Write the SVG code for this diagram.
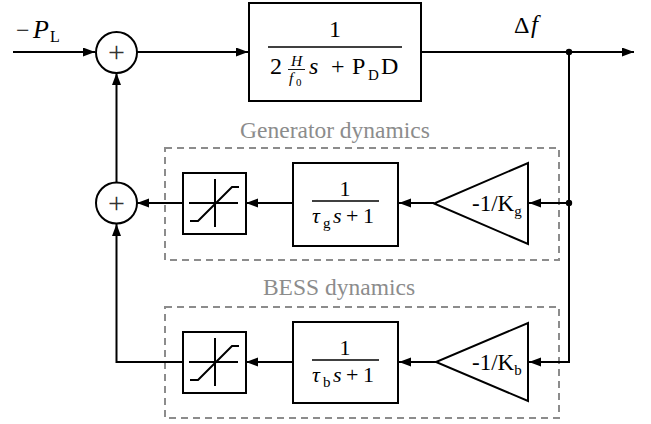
<svg xmlns="http://www.w3.org/2000/svg" width="651" height="424" viewBox="0 0 651 424">
<style>
text{font-family:"Liberation Serif","Times New Roman",serif;fill:#000}
.i{font-style:italic}
.g{fill:#8c8c8c;font-size:23.5px;text-anchor:middle}
.plus{font-size:30px;fill:#333;text-anchor:middle}
.ln{fill:none;stroke:#000;stroke-width:2}
.box{fill:#fff;stroke:#000;stroke-width:2}
.thin{fill:none;stroke:#000;stroke-width:1.3}
.dash{fill:none;stroke:#8c8c8c;stroke-width:2;stroke-dasharray:7 5}
</style>
<defs>
<marker id="ar" markerUnits="userSpaceOnUse" markerWidth="12" markerHeight="10" refX="12" refY="4.5" orient="auto">
<path d="M0,0 L12,4.5 L0,9 z" fill="#000"/>
</marker>
</defs>

<g id="labels">
<text x="16" y="38" font-size="24">−</text>
<text class="i" x="33" y="38" font-size="26">P</text>
<text x="50" y="42" font-size="16">L</text>
<text x="514" y="33" font-size="24">Δ</text>
<text class="i" x="531" y="33" font-size="25">f</text>
<text class="g" x="335" y="138">Generator dynamics</text>
<text class="g" x="339" y="295">BESS dynamics</text>
</g>

<g id="gen-box"><rect class="dash" x="165" y="148" width="394" height="112"/></g>
<g id="bess-box"><rect class="dash" x="165" y="307" width="394" height="111"/></g>

<g id="connectors">
<line class="ln" x1="13" y1="52" x2="95" y2="52" marker-end="url(#ar)"/>
<line class="ln" x1="137" y1="52" x2="248" y2="52" marker-end="url(#ar)"/>
<line class="ln" x1="421" y1="52" x2="634" y2="52" marker-end="url(#ar)"/>
<polyline class="ln" points="569,52 569,362 529,362" marker-end="url(#ar)"/>
<line class="ln" x1="569" y1="203" x2="529" y2="203" marker-end="url(#ar)"/>
<line class="ln" x1="434" y1="203" x2="399" y2="203" marker-end="url(#ar)"/>
<line class="ln" x1="293" y1="203" x2="246" y2="203" marker-end="url(#ar)"/>
<line class="ln" x1="183" y1="203" x2="137" y2="203" marker-end="url(#ar)"/>
<line class="ln" x1="116.5" y1="182.5" x2="116.5" y2="73" marker-end="url(#ar)"/>
<line class="ln" x1="436" y1="362" x2="399" y2="362" marker-end="url(#ar)"/>
<line class="ln" x1="293" y1="362" x2="246" y2="362" marker-end="url(#ar)"/>
<polyline class="ln" points="183,362 116.5,362 116.5,224" marker-end="url(#ar)"/>
<circle cx="569" cy="52" r="3.2" fill="#000"/>
<circle cx="569" cy="203" r="3.2" fill="#000"/>
</g>

<g id="sum1">
<circle class="box" cx="116.5" cy="52.5" r="20.5"/>
<text class="plus" x="116.5" y="62">+</text>
</g>
<g id="sum2">
<circle class="box" cx="116.5" cy="203" r="20.5"/>
<text class="plus" x="116.5" y="212.5">+</text>
</g>

<g id="plant">
<rect class="box" x="249" y="3" width="172" height="98"/>
<text x="335" y="37" font-size="24" text-anchor="middle">1</text>
<line class="thin" x1="268" y1="47" x2="402" y2="47"/>
<text x="270" y="74" font-size="24">2</text>
<text class="i" x="296.5" y="66" font-size="15.5" text-anchor="middle">H</text>
<line x1="288" y1="69.5" x2="305" y2="69.5" stroke="#000" stroke-width="0.9"/>
<text class="i" x="289" y="83" font-size="15.5">f</text>
<text x="296" y="86" font-size="11">0</text>
<text class="i" x="309" y="74" font-size="24">s</text>
<text x="331" y="74" font-size="24">+</text>
<text x="352" y="74" font-size="24">P</text>
<text x="368" y="80" font-size="15">D</text>
<text x="381" y="74" font-size="24">D</text>
</g>

<g id="gain-g">
<polygon class="box" points="528,163 528,244 434,203.5"/>
<text x="472" y="211" font-size="23">-1/K<tspan font-size="15" dy="5">g</tspan></text>
</g>
<g id="lag-g">
<rect class="box" x="293" y="163" width="105" height="83"/>
<text x="345" y="196" font-size="22" text-anchor="middle">1</text>
<line class="thin" x1="312" y1="201" x2="379" y2="201"/>
<text class="i" x="312" y="223" font-size="22">τ</text>
<text x="323" y="228" font-size="15">g</text>
<text class="i" x="333" y="223" font-size="22">s</text>
<text x="346" y="223" font-size="22">+</text>
<text x="363" y="223" font-size="22">1</text>
</g>
<g id="sat-g">
<rect class="box" x="183" y="173" width="63" height="61"/>
<path class="ln" d="M189,203 H238 M215,179 V227 M190,221 H198 L232,187 H239"/>
</g>

<g id="gain-b">
<polygon class="box" points="528,323 528,401 436,362"/>
<text x="472" y="370" font-size="23">-1/K<tspan font-size="15" dy="5">b</tspan></text>
</g>
<g id="lag-b">
<rect class="box" x="293" y="322" width="105" height="81"/>
<text x="345" y="355" font-size="22" text-anchor="middle">1</text>
<line class="thin" x1="312" y1="360" x2="379" y2="360"/>
<text class="i" x="312" y="382" font-size="22">τ</text>
<text x="323" y="387" font-size="15">b</text>
<text class="i" x="333" y="382" font-size="22">s</text>
<text x="346" y="382" font-size="22">+</text>
<text x="363" y="382" font-size="22">1</text>
</g>
<g id="sat-b">
<rect class="box" x="183" y="332" width="63" height="61"/>
<path class="ln" d="M189,362 H238 M215,338 V386 M190,380 H198 L232,346 H239"/>
</g>
</svg>
